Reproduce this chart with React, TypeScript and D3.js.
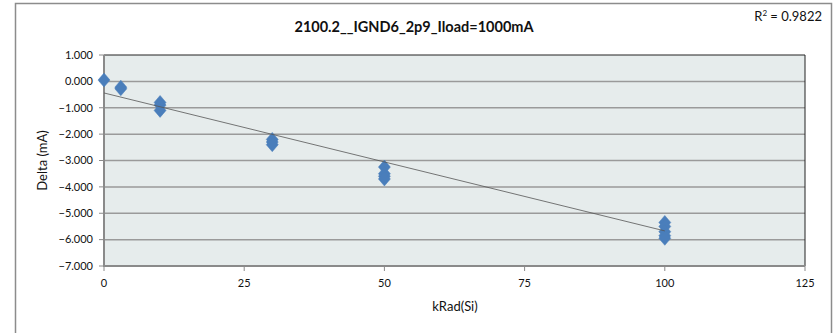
import React from "react";
import * as d3 from "d3";

const xValues = [0, 3, 3, 10, 10, 10, 30, 30, 30, 50, 50, 50, 50, 100, 100, 100, 100, 100];
const yValues = [0.05, -0.22, -0.28, -0.8, -0.9, -1.1, -2.2, -2.3, -2.4, -3.25, -3.5, -3.6, -3.7, -5.35, -5.5, -5.7, -5.85, -5.95];
const xTicks = [0, 25, 50, 75, 100, 125];
const yTicks = [1, 0, -1, -2, -3, -4, -5, -6, -7];
const trendSlope = -0.0523;
const trendIntercept = -0.44;
const title = "2100.2__IGND6_2p9_Iload=1000mA";
const r2Label = "0.9822";

const W = 833, H = 333;
const L = 104, R = 805, T = 55, B = 266;
const FONT = "Lato, 'Open Sans', sans-serif";

export default function App() {
  const x = d3.scaleLinear().domain([0, 125]).range([L, R]);
  const y = d3.scaleLinear().domain([-7, 1]).range([B, T]);
  const xMin = d3.min(xValues)!, xMax = d3.max(xValues)!;
  const diamond = (cx: number, cy: number) => `M${cx},${cy - 7}L${cx + 6},${cy}L${cx},${cy + 7}L${cx - 6},${cy}Z`;
  const fmt = d3.format(".3f");
  return (
    <svg width={W} height={H} style={{ position: "absolute", left: 0, top: 0 }} fontFamily={FONT}>
      <rect x={0} y={0} width={W} height={H} fill="#fff" />
      <rect x={15.5} y={3.5} width={816} height={H + 10} fill="#fff" stroke="#8c8c8c" strokeWidth={1.5} />
      <rect x={L} y={T} width={R - L} height={B - T} fill="#e6ecec" />
      {yTicks.filter(t => t !== 1 && t !== -7).map(t => (
        <line key={t} x1={L} x2={R} y1={y(t)} y2={y(t)} stroke="#9a9a9a" strokeWidth={1.5} />
      ))}
      <line x1={L} x2={R} y1={T} y2={T} stroke="#222" strokeWidth={1} />
      <line x1={R} x2={R} y1={T} y2={B} stroke="#222" strokeWidth={1} />
      <line x1={L} x2={L} y1={T} y2={B + 1} stroke="#8a8a8a" strokeWidth={2} />
      <line x1={L - 1} x2={R} y1={B} y2={B} stroke="#8a8a8a" strokeWidth={2} />
      {yTicks.map(t => (
        <g key={t}>
          <line x1={L - 5} x2={L} y1={y(t)} y2={y(t)} stroke="#8a8a8a" strokeWidth={1} />
          <text x={L - 11} y={y(t)} dy="0.35em" textAnchor="end" fontSize={11} fill="#111">{fmt(t)}</text>
        </g>
      ))}
      {xTicks.map(t => (
        <g key={t}>
          <line x1={x(t)} x2={x(t)} y1={B} y2={B + 5} stroke="#8a8a8a" strokeWidth={1} />
          <text x={x(t)} y={B + 21} textAnchor="middle" fontSize={11} fill="#111">{t}</text>
        </g>
      ))}
      {xValues.map((xv, i) => (
        <path key={i} d={diamond(x(xv), y(yValues[i]))} fill="#4a7ebb" stroke="#4a7ebb" strokeWidth={0.5} />
      ))}
      <line x1={x(xMin)} y1={y(trendSlope * xMin + trendIntercept)} x2={x(xMax)} y2={y(trendSlope * xMax + trendIntercept)} stroke="#555" strokeWidth={0.8} />
      <text x={414} y={32} textAnchor="middle" fontSize={14.5} fontWeight="bold" fill="#111">{title}</text>
      <text x={822} y={21} textAnchor="end" fontSize={13} fill="#111">R<tspan dy={-5} fontSize={8}>2</tspan><tspan dy={5}> = {r2Label}</tspan></text>
      <text transform={`translate(47,${(T + B) / 2}) rotate(-90)`} textAnchor="middle" fontSize={13} fill="#111">Delta (mA)</text>
      <text x={455} y={311} textAnchor="middle" fontSize={13} fill="#111">kRad(Si)</text>
    </svg>
  );
}
